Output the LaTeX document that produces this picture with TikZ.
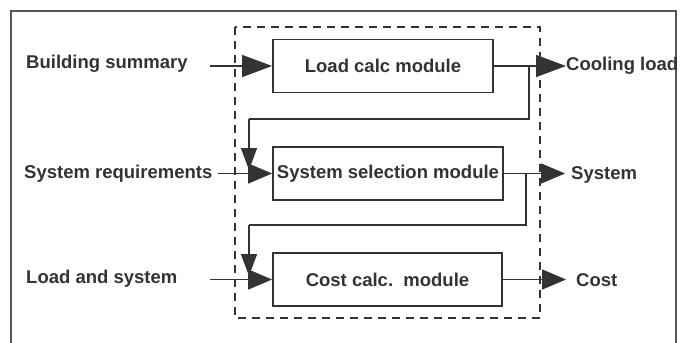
\documentclass[tikz,border=0pt]{standalone}
\usepackage{fontspec}
\setmainfont{Liberation Sans}
\usetikzlibrary{arrows.meta}
\definecolor{ink}{HTML}{333333}
\definecolor{framec}{HTML}{555555}
\begin{document}
\begin{tikzpicture}[x=1pt,y=-1pt,
  lbl/.style={anchor=west,inner sep=0pt,font=\fontsize{18.5}{20}\selectfont\bfseries,text=ink},
  module/.style={draw=ink,line width=1.8pt,minimum width=#1,minimum height=53pt,inner sep=0pt,font=\fontsize{18.5}{20}\selectfont\bfseries,text=ink},
  wire/.style={draw=ink,line width=1.5pt},
  bigtip/.style={-{Triangle[length=30pt,width=22pt]}},
  midtip/.style={-{Triangle[length=24pt,width=20pt]}},
  downtip/.style={-{Triangle[length=22pt,width=16pt]}},
  frame/.style={draw=framec,line width=2pt},
  group/.style={draw=ink,line width=1.8pt,dash pattern=on 8pt off 6pt}]
\useasboundingbox (0,0) rectangle (681,343);
% outer frame (open at the bottom, runs off the picture)
\draw[frame] (11,343) -- (11,11) -- (676,11) -- (676,343);
% dashed group
\draw[group] (235,27) rectangle (540,318);
% modules
\node[module=220pt] (load) at (383,66) {Load calc module};
\node[module=230pt] (sys) at (388,173.5) {System selection module};
\node[module=229pt] (cost) at (387.5,279.5) {Cost calc.\ \ module};
% inputs
\node[lbl] (bs) at (26,64) {Building summary};
\node[lbl] (sr) at (24,174) {System requirements};
\node[lbl] (ls) at (26,279) {Load and system};
\coordinate (in1) at (210,66);
\coordinate (in2) at (218,173.5);
\coordinate (in3) at (210,279.5);
\draw[wire,bigtip] (in1) -- (load.west);
\draw[wire,midtip] (in2) -- (sys.west);
\draw[wire,midtip] (in3) -- (cost.west);
% outputs
\node[lbl] (cl) at (566,66) {Cooling load};
\node[lbl] (so) at (571,175) {System};
\node[lbl] (co) at (576,280) {Cost};
\draw[wire,bigtip] (load.east) -- (cl.west);
\draw[wire,midtip] (sys.east) -- ([xshift=-6pt]so.west |- sys.east);
\draw[wire,midtip] (cost.east) -- ([xshift=-10pt]co.west |- cost.east);
% feedback loops
\coordinate (j1) at (529,66);
\coordinate (k1) at (529,119);
\coordinate (m1) at (249,119);
\coordinate (e1) at (249,170);
\draw[wire] (j1) -- (k1) -- (m1);
\draw[wire,downtip] (m1) -- (e1);
\coordinate (j2) at (526,173.5);
\coordinate (k2) at (526,225);
\coordinate (m2) at (249,225);
\coordinate (e2) at (249,276);
\draw[wire] (j2) -- (k2) -- (m2);
\draw[wire,downtip] (m2) -- (e2);
\end{tikzpicture}
\end{document}
